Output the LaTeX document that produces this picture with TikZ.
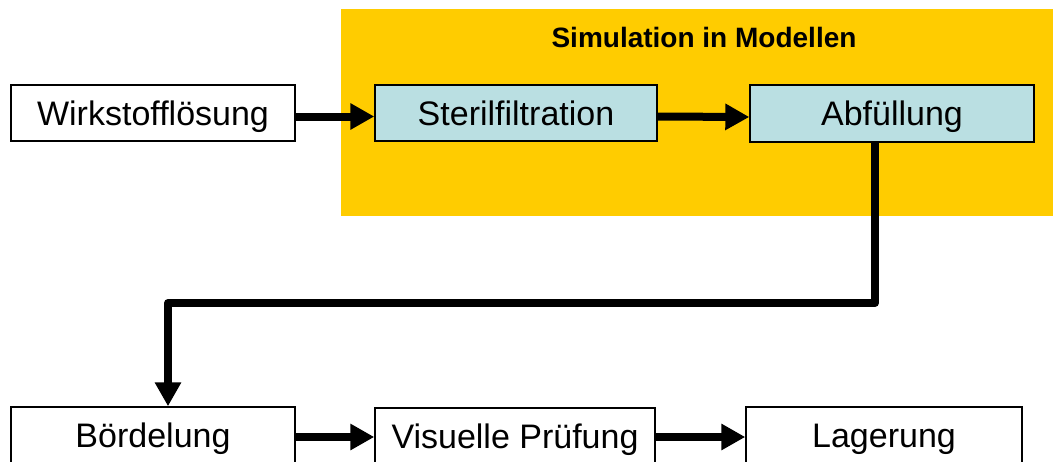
\documentclass[tikz,border=0pt]{standalone}
\usepackage{fontspec}
\setmainfont{Liberation Sans}
\usetikzlibrary{arrows.meta}
\definecolor{panelyellow}{HTML}{FFCC00}
\definecolor{stepblue}{HTML}{BADFE2}
\begin{document}
\begin{tikzpicture}[x=1pt,y=-1pt,
  stepbox/.style={draw=black,line width=1.4pt,fill=white,minimum width=284pt,
    minimum height=56pt,inner sep=0pt,font=\fontsize{34}{40}\selectfont,
    text height=24pt,text depth=0pt},
  simbox/.style={stepbox,fill=stepblue},
  flow/.style={line width=8pt,-{Triangle[length=24pt,width=25pt]}},
]
\useasboundingbox (0,0) rectangle (1053,461);
% simulated area
\fill[panelyellow] (341,9) rectangle (1053,216);
\node[font=\fontsize{28}{34}\selectfont\bfseries] (title) at (704,37) {Simulation in Modellen};
% process steps
\node[stepbox] (wl) at (153,113) {Wirkstofflösung};
\node[simbox,minimum width=282pt] (sf) at (516,113) {Sterilfiltration};
\node[simbox,minimum height=57pt] (af) at (892,113.5) {Abfüllung};
\node[stepbox] (bd) at (153,435) {Bördelung};
\node[stepbox,minimum width=280pt] (vp) at (515,436) {Visuelle Prüfung};
\node[stepbox,minimum width=276pt] (lg) at (884,435) {Lagerung};
% connectors
\draw[flow] ([yshift=-3.5pt]wl.east) -- ([yshift=-3.5pt]sf.west);
\draw[flow] ([yshift=-3.5pt]sf.east) -- ([yshift=-3.5pt]af.west);
\coordinate (c1) at (875,303);
\coordinate (c2) at (168,303);
\draw[flow,line join=round] (af.south -| c1) -- (c1) -- (c2) -- (bd.north -| c2);
\draw[flow] ([yshift=-2pt]bd.east) -- ([yshift=-1pt]vp.west);
\draw[flow] ([yshift=-1pt]vp.east) -- ([yshift=-2pt]lg.west);
\end{tikzpicture}
\end{document}
